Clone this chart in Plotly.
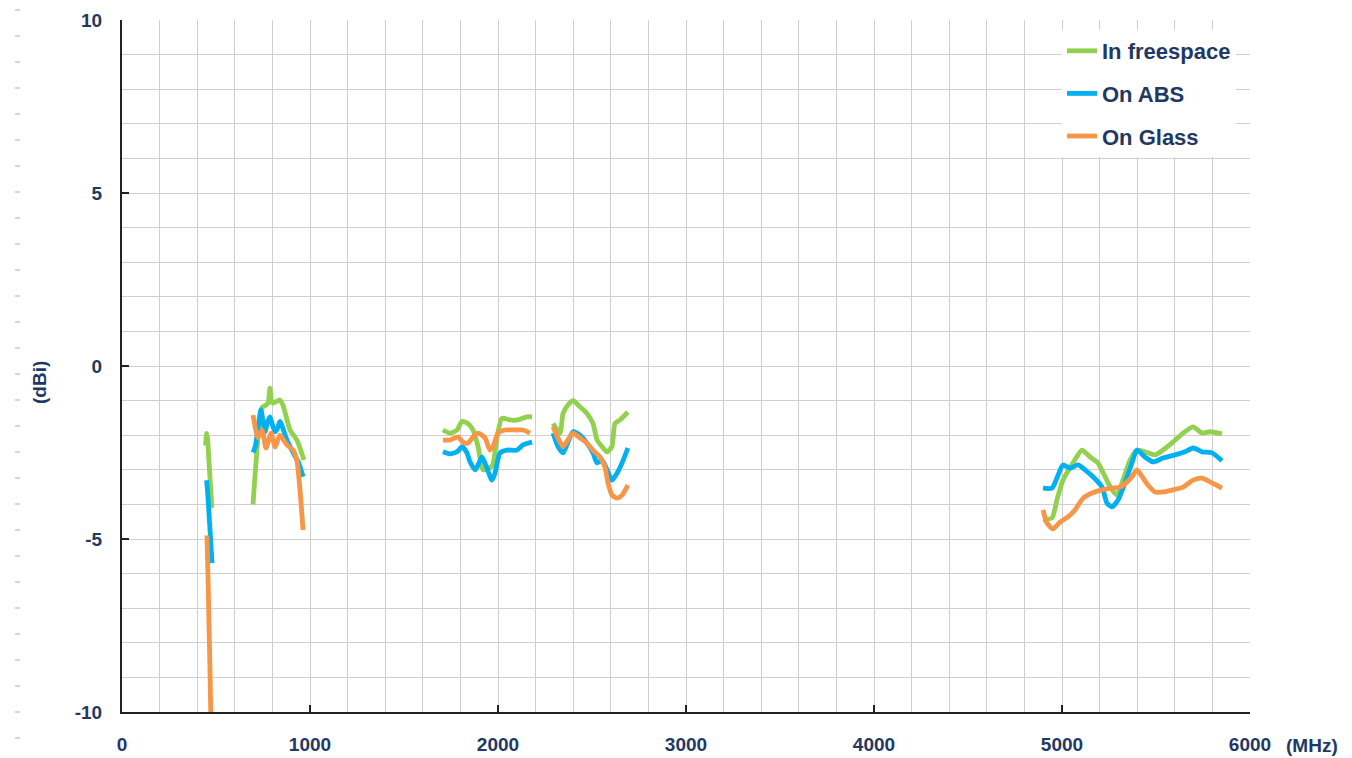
import plotly.graph_objects as go

# ---------------- data (MHz, dBi) ----------------
# In freespace
free_b1_x = [445, 450, 455, 462, 470, 478]
free_b1_y = [-2.3, -1.95, -2.1, -2.7, -3.4, -4.1]
free_b2_x = [697, 745, 760, 777, 787, 795, 803, 840, 856, 894, 930, 968]
free_b2_y = [-4.0, -1.2, -1.15, -1.07, -0.64, -1.0, -1.07, -0.98, -1.13, -1.85, -2.14, -2.72]
free_b3_x = [1707, 1745, 1782, 1809, 1840, 1867, 1894, 1920, 1968, 1995, 2021, 2064, 2106, 2154, 2181]
free_b3_y = [-1.85, -1.94, -1.85, -1.6, -1.66, -1.85, -2.33, -3.0, -2.9, -2.05, -1.51, -1.56, -1.56, -1.47, -1.47]
free_b4_x = [2293, 2330, 2346, 2372, 2399, 2436, 2473, 2505, 2527, 2553, 2580, 2606, 2622, 2649, 2691]
free_b4_y = [-1.66, -1.94, -1.37, -1.13, -1.0, -1.18, -1.37, -1.66, -2.14, -2.33, -2.48, -2.33, -1.66, -1.56, -1.33]
free_b5_x = [4899, 4947, 4973, 5005, 5059, 5106, 5149, 5191, 5229, 5266, 5293, 5324, 5362, 5399, 5441,
             5495, 5537, 5590, 5644, 5697, 5745, 5787, 5851]
free_b5_y = [-4.45, -4.39, -3.87, -3.3, -2.8, -2.43, -2.63, -2.8, -3.2, -3.58, -3.73, -3.3, -2.72, -2.43, -2.48,
             -2.57, -2.43, -2.2, -1.94, -1.76, -1.94, -1.9, -1.96]

# On ABS
abs_b1_x = [450, 455, 462, 470, 479]
abs_b1_y = [-3.3, -3.6, -4.2, -4.9, -5.7]
abs_b2_x = [697, 710, 739, 750, 761, 775, 787, 800, 814, 827, 840, 877, 910, 940, 963]
abs_b2_y = [-2.5, -2.3, -1.27, -1.6, -1.9, -1.6, -1.47, -1.7, -1.9, -1.8, -1.6, -2.14, -2.5, -2.8, -3.2]
abs_b3_x = [1707, 1745, 1782, 1809, 1835, 1851, 1878, 1894, 1915, 1941, 1968, 1984, 2011, 2048, 2101, 2133, 2181]
abs_b3_y = [-2.48, -2.54, -2.48, -2.33, -2.51, -2.77, -3.0, -2.86, -2.63, -2.95, -3.3, -3.1, -2.51, -2.43, -2.43, -2.28, -2.2]
abs_b4_x = [2293, 2319, 2346, 2372, 2399, 2436, 2473, 2505, 2527, 2553, 2580, 2606, 2633, 2660, 2691]
abs_b4_y = [-1.94, -2.33, -2.51, -2.2, -1.9, -2.0, -2.23, -2.51, -2.8, -2.72, -3.0, -3.3, -3.1, -2.8, -2.37]
abs_b5_x = [4899, 4947, 4973, 5005, 5043, 5085, 5122, 5165, 5213, 5239, 5266, 5298, 5335, 5372, 5399,
            5441, 5484, 5537, 5601, 5654, 5697, 5745, 5798, 5851]
abs_b5_y = [-3.53, -3.53, -3.24, -2.86, -2.95, -2.86, -3.0, -3.2, -3.5, -3.96, -4.07, -3.87, -3.38, -2.8, -2.43,
            -2.63, -2.77, -2.66, -2.57, -2.48, -2.37, -2.48, -2.51, -2.74]

# On Glass
glass_b1_x = [452, 458, 463, 468, 472]
glass_b1_y = [-4.9, -6.2, -7.5, -8.8, -10.0]
glass_b2_x = [697, 710, 723, 745, 766, 793, 814, 840, 877, 910, 930, 947, 963]
glass_b2_y = [-1.42, -1.8, -2.08, -1.85, -2.37, -1.94, -2.34, -2.0, -2.28, -2.43, -2.72, -3.6, -4.74]
glass_b3_x = [1707, 1745, 1787, 1814, 1840, 1867, 1894, 1931, 1957, 1973, 2000, 2037, 2101, 2133, 2170]
glass_b3_y = [-2.14, -2.14, -2.05, -2.2, -2.23, -2.05, -1.94, -2.08, -2.43, -2.33, -1.94, -1.85, -1.85, -1.85, -1.94]
glass_b4_x = [2293, 2319, 2346, 2372, 2399, 2436, 2473, 2505, 2543, 2569, 2585, 2606, 2633, 2660, 2691]
glass_b4_y = [-1.76, -2.08, -2.33, -2.14, -1.94, -2.08, -2.23, -2.43, -2.63, -2.92, -3.38, -3.73, -3.82, -3.73, -3.44]
glass_b5_x = [4899, 4920, 4952, 4989, 5032, 5069, 5112, 5160, 5213, 5266, 5309, 5346, 5372, 5399, 5426,
              5457, 5495, 5537, 5590, 5644, 5697, 5745, 5798, 5851]
glass_b5_y = [-4.16, -4.54, -4.71, -4.51, -4.36, -4.16, -3.82, -3.67, -3.58, -3.53, -3.5, -3.35, -3.2, -3.0, -3.2,
              -3.44, -3.64, -3.64, -3.58, -3.5, -3.3, -3.24, -3.38, -3.53]

x_ticks = [0, 1000, 2000, 3000, 4000, 5000, 6000]
y_ticks = [-10, -5, 0, 5, 10]

series_names = ["In freespace", "On ABS", "On Glass"]
series_colors = ["#92D050", "#00B0F0", "#F79646"]


def join_bands(bands):
    xs, ys = [], []
    for bx, by in bands:
        if xs:
            xs.append(None)
            ys.append(None)
        xs.extend(bx)
        ys.extend(by)
    return xs, ys


series_data = [
    join_bands([(free_b1_x, free_b1_y), (free_b2_x, free_b2_y), (free_b3_x, free_b3_y),
                (free_b4_x, free_b4_y), (free_b5_x, free_b5_y)]),
    join_bands([(abs_b1_x, abs_b1_y), (abs_b2_x, abs_b2_y), (abs_b3_x, abs_b3_y),
                (abs_b4_x, abs_b4_y), (abs_b5_x, abs_b5_y)]),
    join_bands([(glass_b1_x, glass_b1_y), (glass_b2_x, glass_b2_y), (glass_b3_x, glass_b3_y),
                (glass_b4_x, glass_b4_y), (glass_b5_x, glass_b5_y)]),
]

NAVY = "#1F3864"
FONT = "Liberation Sans, Arial, sans-serif"

fig = go.Figure()
for i, (name, color, (xs, ys)) in enumerate(zip(series_names, series_colors, series_data)):
    fig.add_trace(go.Scatter(
        x=xs, y=ys, mode="lines", name=name, connectgaps=False,
        line=dict(color=color, width=4.8, shape="spline", smoothing=0.6),
        legendgroup=f"g{i}",
    ))

W, H = 1352, 758
L, R, T, B = 122, 102, 20, 46
pw, ph = W - L - R, H - T - B

grid_col = "#CFCFCF"
fig.update_layout(
    width=W, height=H,
    margin=dict(l=L, r=R, t=T, b=B, pad=0, autoexpand=False),
    paper_bgcolor="white", plot_bgcolor="white",
    font=dict(family=FONT, color=NAVY, size=20, weight="bold"),
    showlegend=True,
    legend=dict(
        x=(1062 - L) / pw, y=(ph - 10) / ph, xanchor="left", yanchor="top",
        bgcolor="white", borderwidth=0,
        font=dict(family=FONT, size=22, color=NAVY, weight="bold"),
        tracegroupgap=11, traceorder="grouped", itemwidth=30,
    ),
    xaxis=dict(
        range=[0, 6000], tickvals=x_ticks, ticktext=[str(v) for v in x_ticks],
        showgrid=True, gridcolor=grid_col, gridwidth=1.3,
        minor=dict(dtick=200, showgrid=True, gridcolor=grid_col, gridwidth=1.3),
        showline=True, linecolor="#222222", linewidth=2,
        ticks="inside", ticklen=7, tickcolor="#222222", tickwidth=1.5,
        zeroline=False, ticklabelstandoff=14, automargin=False,
        tickfont=dict(family=FONT, size=19, color=NAVY, weight="bold"),
    ),
    yaxis=dict(
        range=[-10, 10], tickvals=y_ticks, ticktext=[str(v) for v in y_ticks],
        showgrid=True, gridcolor=grid_col, gridwidth=1.3,
        minor=dict(dtick=1, showgrid=True, gridcolor=grid_col, gridwidth=1.3),
        showline=True, linecolor="#222222", linewidth=2,
        ticks="inside", ticklen=7, tickcolor="#222222", tickwidth=1.5,
        zeroline=False, ticklabelstandoff=14, automargin=False,
        tickfont=dict(family=FONT, size=19, color=NAVY, weight="bold"),
    ),
)

# axis unit labels
fig.add_annotation(text="(MHz)", xref="paper", yref="paper",
                   x=(1312 - L) / pw, y=(H - B - 745) / ph, showarrow=False,
                   xanchor="center", yanchor="middle",
                   font=dict(family=FONT, size=19, color=NAVY, weight="bold"))
fig.add_annotation(text="(dBi)", xref="paper", yref="paper", textangle=-90,
                   x=(40 - L) / pw, y=(H - B - 383) / ph, showarrow=False,
                   xanchor="center", yanchor="middle",
                   font=dict(family=FONT, size=19, color=NAVY, weight="bold"))

# faint dashes along the left edge of the picture
for k in range(29):
    py = 10 + 26 * k
    yp = (H - B - py) / ph
    fig.add_shape(type="line", xref="paper", yref="paper",
                  x0=(15 - L) / pw, x1=(20 - L) / pw, y0=yp, y1=yp,
                  line=dict(color="#C8C8C8", width=1.5))

fig.write_html("out.html", config={"displayModeBar": False},
               post_script="document.body.style.margin='0';")
